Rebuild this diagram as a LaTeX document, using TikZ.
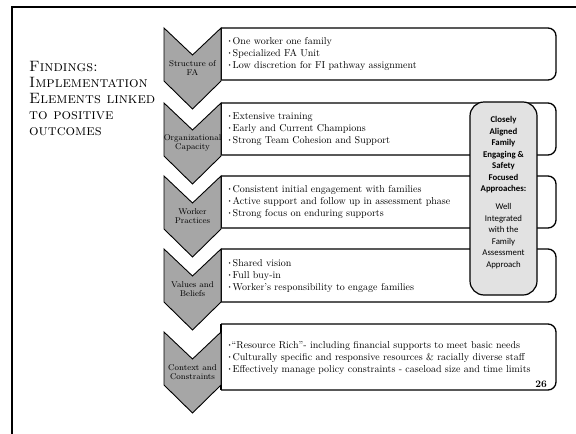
\documentclass[tikz,border=0pt]{standalone}
\usepackage{fontspec}
\newfontfamily\calibrifont{Carlito}
\usetikzlibrary{positioning}

\definecolor{chevgray}{HTML}{A6A6A6}
\definecolor{notegray}{HTML}{E2E2E2}
\newcommand{\bul}{\makebox[5.5pt][l]{\raisebox{.35ex}{\fontsize{5}{5}\selectfont\textbullet}}}
\newcommand{\tightbul}{\makebox[4.5pt][l]{\raisebox{.35ex}{\fontsize{5}{5}\selectfont\textbullet}}}

\begin{document}
\begin{tikzpicture}[
            x = 1pt, y = -1pt, % pixel grid, y pointing down
            chevron/.style = {draw = black, fill = chevgray, line width = 0.9pt, line join = miter},
            listbox/.style = {draw = black, fill = white, line width = 1.3pt},
            chevlabel/.style = {inner sep = 0pt, align = center, font = \fontsize{8.4}{9}\selectfont},
            itemtext/.style = {inner sep = 0pt, align = left, anchor = west, font = \fontsize{10}{12}\selectfont},
            notebox/.style = {draw = black, fill = notegray, line width = 1.2pt, rounded corners = 14pt, inner sep = 0pt}
        ]

        \useasboundingbox (0,0) rectangle (576,434);

	% slide frame
        \draw[line width = 1.5pt] (12,434) -- (12,7) -- (576,7);

	% title
        \node[anchor = north west, inner sep = 0pt, align = left, font = \fontsize{15}{16}\selectfont] (title) at (29,61)
            {\textsc{Findings:}\\ \textsc{Implementation}\\ \textsc{Elements linked}\\ \textsc{to positive}\\ \textsc{outcomes}};

	% list boxes
        \foreach \ya/\yb in {28/80, 103/155, 176/228, 249/302, 324/390} {
            \draw[listbox, rounded corners = 8pt] (221,\ya) -- (556,\ya) -- (556,\yb) -- (221,\yb);
            \draw[listbox] (221,\ya) -- (221,\yb);
        }

	% chevrons
        \foreach \ya in {28, 103, 176, 249, 332}
            \draw[chevron] (164,\ya) -- (192.5,\ya+27) -- (221,\ya) -- (221,\ya+53) -- (192.5,\ya+81) -- (164,\ya+53) -- cycle;

        \node[chevlabel] (c1) at (192.5,68) {Structure of\\FA};
        \node[chevlabel] (c2) at (192.5,143) {Organizational\\Capacity};
        \node[chevlabel] (c3) at (192.5,216) {Worker\\Practices};
        \node[chevlabel] (c4) at (192.5,289) {Values and\\Beliefs};
        \node[chevlabel] (c5) at (192.5,372) {Context and\\Constraints};

	% items
        \node[itemtext] (t1) at (227,54) {\bul One worker one family\\ \bul Specialized FA Unit\\ \bul Low discretion for FI pathway assignment};
        \node[itemtext] (t2) at (227,129) {\bul Extensive training\\ \bul Early and Current Champions\\ \bul Strong Team Cohesion and Support};
        \node[itemtext] (t3) at (227,202) {\bul Consistent initial engagement with families\\ \bul Active support and follow up in assessment phase\\ \bul Strong focus on enduring supports};
        \node[itemtext] (t4) at (227,276) {\bul Shared vision\\ \bul Full buy-in\\ \bul Worker's responsibility to engage families};
        \node[itemtext] (t5) at (227,358) {\tightbul ``Resource Rich''- including financial supports to meet basic needs\\ \bul Culturally specific and responsive resources \& racially diverse staff\\ \bul Effectively manage policy constraints - caseload size and time limits};

        \node[anchor = east, inner sep = 0pt, font = \bfseries\fontsize{10}{12}\selectfont] (page) at (547,384) {26};

	% callout
        \node[notebox, minimum width = 67pt, minimum height = 193pt] (focus) at (503.5,198.5) {};
        \node[inner sep = 0pt, align = center, font = \calibrifont\fontsize{8.8}{11.5}\selectfont] (focustext) at (503.5,192.5)
            {\textbf{Closely}\\ \textbf{Aligned}\\ \textbf{Family}\\ \textbf{Engaging \&}\\ \textbf{Safety}\\ \textbf{Focused}\\ \textbf{Approaches:}\\[6.5pt]
             Well\\ Integrated\\ with the\\ Family\\ Assessment\\ Approach};

  \end{tikzpicture}
\end{document}
